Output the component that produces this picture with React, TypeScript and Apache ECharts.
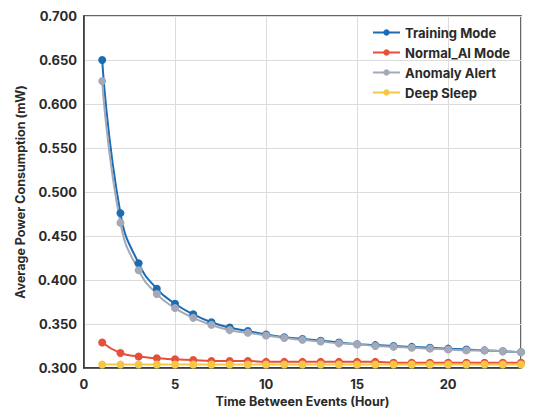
import React, { useEffect, useRef } from "react";
import * as echarts from "echarts";

const hours = [1, 2, 3, 4, 5, 6, 7, 8, 9, 10, 11, 12, 13, 14, 15, 16, 17, 18, 19, 20, 21, 22, 23, 24];
const trainingMode = [0.650, 0.476, 0.419, 0.390, 0.373, 0.361, 0.352, 0.346, 0.342, 0.338, 0.335, 0.333, 0.331, 0.329, 0.327, 0.326, 0.325, 0.324, 0.323, 0.322, 0.321, 0.320, 0.319, 0.318];
const normalAIMode = [0.329, 0.317, 0.313, 0.311, 0.310, 0.309, 0.308, 0.308, 0.308, 0.307, 0.307, 0.307, 0.307, 0.307, 0.307, 0.307, 0.306, 0.306, 0.306, 0.306, 0.306, 0.306, 0.306, 0.306];
const anomalyAlert = [0.626, 0.465, 0.411, 0.384, 0.368, 0.357, 0.349, 0.343, 0.340, 0.337, 0.334, 0.332, 0.330, 0.328, 0.327, 0.325, 0.324, 0.323, 0.322, 0.321, 0.320, 0.320, 0.319, 0.318];
const deepSleep = [0.304, 0.304, 0.304, 0.304, 0.304, 0.304, 0.304, 0.304, 0.304, 0.304, 0.304, 0.304, 0.304, 0.304, 0.304, 0.304, 0.304, 0.304, 0.304, 0.304, 0.304, 0.304, 0.304, 0.304];

const seriesNames = ["Training Mode", "Normal_AI Mode", "Anomaly Alert", "Deep Sleep"];
const seriesColors = ["#1b6cb2", "#e6503b", "#a3a9b7", "#f6c744"];
const seriesData = [trainingMode, normalAIMode, anomalyAlert, deepSleep];

const FONT = "Inter";

export default function App() {
  const ref = useRef<HTMLDivElement>(null);
  useEffect(() => {
    if (!ref.current) return;
    const chart = echarts.init(ref.current, null, { renderer: "svg" });
    chart.setOption({
      animation: false,
      backgroundColor: "#ffffff",
      textStyle: { fontFamily: FONT },
      grid: {
        left: 84,
        right: 32,
        top: 16,
        bottom: 45,
        show: true,
        borderColor: "#333",
        borderWidth: 1.5,
      },
      legend: {
        orient: "vertical",
        left: 367,
        top: 21,
        itemWidth: 27,
        itemHeight: 8,
        itemGap: 7,
        textStyle: { fontFamily: FONT, fontWeight: 700, fontSize: 13, color: "#2a2a2a" },
        data: seriesNames,
      },
      xAxis: {
        type: "value",
        min: 0,
        max: 24,
        interval: 5,
        name: "Time Between Events (Hour)",
        nameLocation: "middle",
        nameGap: 27,
        nameTextStyle: { fontFamily: FONT, fontWeight: 700, fontSize: 12.5, color: "#2a2a2a" },
        axisLine: { show: true, lineStyle: { color: "#333", width: 1.5 } },
        axisTick: { show: false },
        axisLabel: { showMaxLabel: false, fontFamily: FONT, fontWeight: 700, fontSize: 13, color: "#2a2a2a", margin: 9 },
        splitLine: { show: true, lineStyle: { color: "#dcdcdc", width: 1 } },
      },
      yAxis: {
        type: "value",
        min: 0.3,
        max: 0.7,
        interval: 0.05,
        name: "Average Power Consumption (mW)",
        nameLocation: "middle",
        nameGap: 57,
        nameTextStyle: { fontFamily: FONT, fontWeight: 700, fontSize: 12.5, color: "#2a2a2a" },
        axisLine: { show: true, lineStyle: { color: "#333", width: 1.5 } },
        axisTick: { show: false },
        axisLabel: {
          fontFamily: FONT,
          fontWeight: 700,
          fontSize: 13,
          color: "#2a2a2a",
          margin: 7,
          formatter: (v: number) => v.toFixed(3),
        },
        splitLine: { show: true, lineStyle: { color: "#dcdcdc", width: 1 } },
      },
      series: seriesNames.map((name, i) => ({
        name,
        type: "line",
        smooth: true,
        symbol: "circle",
        symbolSize: 8,
        color: seriesColors[i],
        lineStyle: { width: 2, color: seriesColors[i] },
        itemStyle: { color: seriesColors[i] },
        data: hours.map((h, j) => [h, seriesData[i][j]]),
      })),
    });
    return () => chart.dispose();
  }, []);
  return (
    <div
      ref={ref}
      style={{ position: "fixed", left: 0, top: 0, width: 553, height: 413 }}
    />
  );
}
